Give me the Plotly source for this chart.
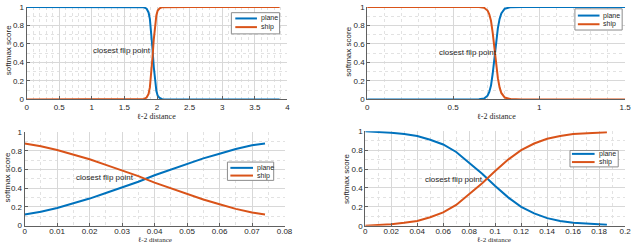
import plotly.graph_objects as go

W, H = 640, 249

# ---------------- data ----------------
tl_x = [0, 0.5, 1.0, 1.5, 1.75, 1.8, 1.84, 1.87, 1.89, 1.91, 1.93, 1.95, 1.97, 1.99, 2.01, 2.04, 2.08, 2.2, 2.5, 3.0, 3.5, 3.88]
tl_plane = [1, 1, 1, 1, 1, 0.995, 0.98, 0.94, 0.87, 0.74, 0.55, 0.35, 0.19, 0.09, 0.04, 0.015, 0.003, 0, 0, 0, 0, 0]
tl_ship = [0, 0, 0, 0, 0, 0.005, 0.02, 0.06, 0.13, 0.26, 0.45, 0.65, 0.81, 0.91, 0.96, 0.985, 0.997, 1, 1, 1, 1, 1]

tr_x = [0, 0.3, 0.6, 0.65, 0.68, 0.7, 0.71, 0.72, 0.73, 0.74, 0.75, 0.76, 0.77, 0.78, 0.8, 0.83, 0.9, 1.2, 1.5]
tr_plane = [0, 0, 0, 0.002, 0.01, 0.04, 0.08, 0.15, 0.28, 0.45, 0.62, 0.77, 0.87, 0.93, 0.98, 0.995, 1, 1, 1]
tr_ship = [1, 1, 1, 0.998, 0.99, 0.96, 0.92, 0.85, 0.72, 0.55, 0.38, 0.23, 0.13, 0.07, 0.02, 0.005, 0, 0, 0]

bl_x = [0, 0.005, 0.01, 0.015, 0.02, 0.025, 0.03, 0.035, 0.04, 0.045, 0.05, 0.055, 0.06, 0.065, 0.07, 0.074]
bl_plane = [0.12, 0.15, 0.19, 0.24, 0.29, 0.35, 0.41, 0.47, 0.54, 0.60, 0.66, 0.72, 0.77, 0.82, 0.86, 0.88]
bl_ship = [0.88, 0.85, 0.81, 0.76, 0.71, 0.65, 0.59, 0.53, 0.46, 0.40, 0.34, 0.28, 0.23, 0.18, 0.14, 0.12]

br_x = [0, 0.01, 0.02, 0.03, 0.04, 0.05, 0.06, 0.07, 0.08, 0.09, 0.1, 0.11, 0.12, 0.13, 0.14, 0.15, 0.16, 0.17, 0.18, 0.186]
br_plane = [1.0, 0.995, 0.985, 0.97, 0.95, 0.91, 0.86, 0.78, 0.67, 0.55, 0.42, 0.30, 0.20, 0.13, 0.08, 0.05, 0.03, 0.02, 0.012, 0.01]
br_ship = [0.0, 0.005, 0.015, 0.03, 0.05, 0.09, 0.14, 0.22, 0.33, 0.45, 0.58, 0.70, 0.80, 0.87, 0.92, 0.95, 0.97, 0.98, 0.988, 0.99]

# tick values / labels
tl_ticks = [0, 0.5, 1, 1.5, 2, 2.5, 3, 3.5, 4]
tr_ticks = [0, 0.5, 1, 1.5]
bl_ticks = [0, 0.01, 0.02, 0.03, 0.04, 0.05, 0.06, 0.07, 0.08]
br_ticks = [0, 0.02, 0.04, 0.06, 0.08, 0.1, 0.12, 0.14, 0.16, 0.18, 0.2]
y_ticks = [0, 0.2, 0.4, 0.6, 0.8, 1]

series_names = ["plane", "ship"]
x_title = "ℓ-2 distance"
y_title = "softmax score"
flip_label = "closest flip point"

BLUE = "#0072BD"
ORANGE = "#D95319"
FONT = "Liberation Sans, Arial, sans-serif"


def px(x):
    return x / W


def py(y):
    return 1 - y / H


def fmt(v):
    return ("%g" % v)


fig = go.Figure()

panels = [
    dict(x=tl_x, p=tl_plane, s=tl_ship, sfx="", xd=(25, 290), yd=(3, 99), xr=[0, 4], tv=tl_ticks, mn=0.1, so=0),
    dict(x=tr_x, p=tr_plane, s=tr_ship, sfx="2", xd=(371, 633), yd=(3, 99), xr=[0, 1.5], tv=tr_ticks, mn=0.1, so=0),
    dict(x=bl_x, p=bl_plane, s=bl_ship, sfx="3", xd=(23, 287), yd=(133, 230), xr=[0, 0.08], tv=bl_ticks, mn=0.005, so=-2),
    dict(x=br_x, p=br_plane, s=br_ship, sfx="4", xd=(369, 633), yd=(132, 230), xr=[0, 0.2], tv=br_ticks, mn=0.01, so=-2),
]

TICKFONT = dict(family=FONT, size=8, color="#262626")
layout_axes = {}
annotations = []
shapes = []
for pn in panels:
    xa = "x" + pn["sfx"]
    ya = "y" + pn["sfx"]
    fig.add_trace(go.Scatter(x=pn["x"], y=pn["p"], mode="lines", name=series_names[0],
                             line=dict(color=BLUE, width=2), xaxis=xa, yaxis=ya, showlegend=False))
    fig.add_trace(go.Scatter(x=pn["x"], y=pn["s"], mode="lines", name=series_names[1],
                             line=dict(color=ORANGE, width=2), xaxis=xa, yaxis=ya, showlegend=False))
    common = dict(showline=True, linecolor="#606060", linewidth=1, ticks="inside", ticklen=3,
                  tickcolor="#606060", showgrid=True, gridcolor="#d8d8d8", gridwidth=1,
                  zeroline=False, tickfont=TICKFONT, fixedrange=True, ticklabeloverflow="allow")
    eps = (pn["xr"][1] - pn["xr"][0]) * 1e-6
    layout_axes["xaxis" + pn["sfx"]] = dict(
        common, domain=[px(pn["xd"][0]), px(pn["xd"][1])], range=[pn["xr"][0], pn["xr"][1] + eps],
        tickmode="array", tickvals=pn["tv"], ticktext=[fmt(v) for v in pn["tv"]], ticklabelstandoff=pn["so"],
        anchor=ya, minor=dict(showgrid=True, gridcolor="#e2e2e2", griddash="3px,3px", dtick=pn["mn"], tick0=0))
    layout_axes["yaxis" + pn["sfx"]] = dict(
        common, domain=[py(pn["yd"][1]), py(pn["yd"][0])], range=[0, 1],
        tickmode="array", tickvals=y_ticks, ticktext=[fmt(v) for v in y_ticks],
        anchor=xa, minor=dict(showgrid=True, gridcolor="#e2e2e2", griddash="3px,3px", dtick=0.1, tick0=0))

fig.update_layout(**layout_axes)

# axis titles
for cx, cy, fs in [(157, 117, 8), (502, 117, 8), (155, 245, 7), (500, 245, 7)]:
    annotations.append(dict(x=px(cx), y=py(cy), xref="paper", yref="paper", text=x_title, showarrow=False,
                            font=dict(family="Liberation Serif, DejaVu Serif, serif", size=fs, color="#262626"),
                            xanchor="center", yanchor="middle"))
for cx, cy in [(6, 48), (352, 50), (6, 180), (350, 182)]:
    annotations.append(dict(x=px(cx), y=py(cy), xref="paper", yref="paper", text=y_title, showarrow=False,
                            textangle=-90, font=dict(family=FONT, size=8, color="#262626"),
                            xanchor="center", yanchor="middle"))

# flip point labels
for lx, ly in [(90, 48), (442, 50), (73, 180), (428, 182)]:
    annotations.append(dict(x=px(lx), y=py(ly), xref="paper", yref="paper", text=flip_label, showarrow=False,
                            font=dict(family=FONT, size=8, color="#262626"),
                            xanchor="left", yanchor="middle"))

# legends (box, line start/end, text x, y of plane row, y of ship row)
legends = [
    dict(box=(233, 9, 282, 31), lx=(237, 259), tx=261, yr=(15, 24)),
    dict(box=(582, 5, 630, 27), lx=(585, 607), tx=609, yr=(12, 21)),
    dict(box=(229, 164, 276, 183), lx=(232, 255), tx=257, yr=(170, 178)),
    dict(box=(577, 152, 626, 169), lx=(579, 602), tx=604, yr=(155.5, 164)),
]
for lg in legends:
    x0, y0, x1, y1 = lg["box"]
    shapes.append(dict(type="rect", xref="paper", yref="paper", x0=px(x0), x1=px(x1), y0=py(y1), y1=py(y0),
                       line=dict(color="#8c8c8c", width=1), fillcolor="white", layer="above"))
    for name, col, yy in zip(series_names, [BLUE, ORANGE], lg["yr"]):
        shapes.append(dict(type="line", xref="paper", yref="paper", x0=px(lg["lx"][0]), x1=px(lg["lx"][1]),
                           y0=py(yy), y1=py(yy), line=dict(color=col, width=2), layer="above"))
        annotations.append(dict(x=px(lg["tx"]), y=py(yy), xref="paper", yref="paper", text=name,
                                showarrow=False, xanchor="left", yanchor="middle",
                                font=dict(family=FONT, size=7, color="#262626")))

fig.update_layout(width=W, height=H, autosize=False, margin=dict(l=0, r=0, t=0, b=0),
                  paper_bgcolor="white", plot_bgcolor="white", showlegend=False,
                  annotations=annotations, shapes=shapes)

fig.write_html("out.html", config=dict(displayModeBar=False),
               post_script="document.body.style.margin='0';document.body.style.overflow='hidden';")
